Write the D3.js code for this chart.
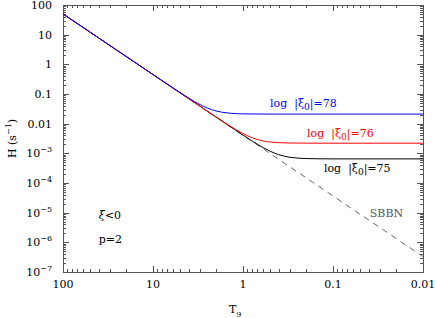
<!DOCTYPE html>
<meta charset="utf-8">
<style>
	body { margin: 0; background: #fff; }
	svg text { font-family: "DejaVu Serif", serif; font-size: 11px; }
	.axis path { display: none; }
	.axis line { stroke: #555; shape-rendering: crispEdges; }
</style>
<body>
<script src="https://d3js.org/d3.v7.min.js"></script>
<script>

	// temperature samples (T9)
	var temps = [100, 50, 20, 10, 7, 5, 4, 3, 2.5, 2, 1.5, 1.2, 1, 0.8, 0.6, 0.5, 0.4, 0.3, 0.2, 0.15, 0.1, 0.05, 0.02, 0.01];

	// H values (s^-1) for each curve
	var hBlue  = [50, 12.15, 1.865, 0.4525, 0.219, 0.1115, 0.0724, 0.0439, 0.0339, 0.0269, 0.0230, 0.0218, 0.0214, 0.0212, 0.0211, 0.0210, 0.0210, 0.0210, 0.0210, 0.0210, 0.0210, 0.0210, 0.0210, 0.0210];
	var hRed   = [50, 12.15, 1.865, 0.4525, 0.218, 0.1095, 0.0693, 0.0386, 0.0266, 0.01694, 0.00958, 0.0063, 0.00463, 0.00339, 0.00262, 0.00241, 0.00229, 0.00223, 0.00221, 0.0022, 0.0022, 0.0022, 0.0022, 0.0022];
	var hBlack = [50, 12.15, 1.865, 0.4525, 0.218, 0.1095, 0.0693, 0.0385, 0.02655, 0.0168, 0.00935, 0.00594, 0.00412, 0.00266, 0.00157, 0.00118, 0.0009, 0.000735, 0.000667, 0.000655, 0.00065, 0.00065, 0.00065, 0.00065];

	// standard BBN (dashed)
	var sbbnT = [100, 10, 1, 0.1, 0.01];
	var sbbnH = [50, 0.452, 0.00407, 0.0000367, 0.00000033];

	var xMajor = [100, 10, 1, 0.1, 0.01];
	var xLabels = ["100", "10", "1", "0.1", "0.01"];
	var yMajor = [100, 10, 1, 0.1, 0.01, 1e-3, 1e-4, 1e-5, 1e-6, 1e-7];
	var yLabels = ["100", "10", "1", "0.1", "0.01", "-3", "-4", "-5", "-6", "-7"];

	var W = 436, H = 318;
	var margin = {top: 5, right: 13, bottom: 46, left: 63};
	var width = W - margin.left - margin.right,
		height = H - margin.top - margin.bottom;

	var x = d3.scaleLog().domain([100, 0.01]).range([0, width]);
	var y = d3.scaleLog().domain([1e-7, 100]).range([height, 0]);

	var svg = d3.select("body").append("svg")
		.attr("width", W)
		.attr("height", H)
		.append("g")
		.attr("transform", "translate(" + margin.left + "," + margin.top + ")");

	// minor tick positions (2..9 in each decade)
	function minors(lo, hi) {
		var out = [];
		for (var e = lo; e < hi; e++) {
			for (var k = 2; k <= 9; k++) out.push(k * Math.pow(10, e));
		}
		return out;
	}
	var xMinor = minors(-2, 2);
	var yMinor = minors(-7, 2);

	// ticks point inward on all four sides
	function addAxis(gen, scale, vals, size, tr) {
		svg.append("g")
			.attr("class", "axis")
			.attr("transform", tr)
			.call(gen(scale).tickValues(vals).tickSizeInner(size).tickSizeOuter(0).tickFormat(""));
	}
	addAxis(d3.axisBottom, x, xMajor, -6, "translate(0," + height + ")");
	addAxis(d3.axisBottom, x, xMinor, -3, "translate(0," + height + ")");
	addAxis(d3.axisTop, x, xMajor, -6, "translate(0,0)");
	addAxis(d3.axisTop, x, xMinor, -3, "translate(0,0)");
	addAxis(d3.axisLeft, y, yMajor, -6, "translate(0,0)");
	addAxis(d3.axisLeft, y, yMinor, -3, "translate(0,0)");
	addAxis(d3.axisRight, y, yMajor, -6, "translate(" + width + ",0)");
	addAxis(d3.axisRight, y, yMinor, -3, "translate(" + width + ",0)");

	// frame
	svg.append("rect")
		.attr("x", 0).attr("y", 0)
		.attr("width", width).attr("height", height)
		.attr("fill", "none")
		.attr("stroke", "#555")
		.attr("shape-rendering", "crispEdges");

	// x tick labels
	svg.selectAll(".xlab")
		.data(xMajor)
		.enter().append("text")
		.attr("x", function(d) { return x(d); })
		.attr("y", height + 16)
		.attr("text-anchor", "middle")
		.text(function(d, i) { return xLabels[i]; });

	// y tick labels, the small ones as powers of ten
	yMajor.forEach(function(d, i) {
		var t = svg.append("text")
			.attr("x", -11)
			.attr("y", y(d) + 4)
			.attr("text-anchor", "end");
		if (d >= 0.01) {
			t.text(yLabels[i]);
		} else {
			t.append("tspan").text("10");
			t.append("tspan").attr("dy", -5).attr("font-size", "8px").text(yLabels[i].replace("-", "\u2212"));
		}
	});

	// axis titles
	var xt = svg.append("text")
		.attr("x", x(1) - 14)
		.attr("y", H - margin.top - 5);
	xt.append("tspan").text("T");
	xt.append("tspan").attr("dy", 4).attr("font-size", "8px").text("9");

	var yt = svg.append("text")
		.attr("transform", "translate(" + (-margin.left + 16) + "," + (height / 2) + ") rotate(-90)")
		.attr("text-anchor", "middle");
	yt.append("tspan").text("H (s");
	yt.append("tspan").attr("dy", -5).attr("font-size", "8px").text("\u22121");
	yt.append("tspan").attr("dy", 5).text(")");

	// curves
	var line = d3.line()
		.x(function(d) { return x(d[0]); })
		.y(function(d) { return y(d[1]); })
		.curve(d3.curveMonotoneX);

	svg.append("path")
		.datum(d3.zip(sbbnT, sbbnH))
		.attr("d", line)
		.attr("fill", "none")
		.attr("stroke", "#666")
		.attr("stroke-width", 1)
		.attr("stroke-dasharray", "6,5");

	[[hBlack, "#000"], [hRed, "#ff0000"], [hBlue, "#0000ff"]].forEach(function(c) {
		svg.append("path")
			.datum(d3.zip(temps, c[0]))
			.attr("d", line)
			.attr("fill", "none")
			.attr("stroke", c[1])
			.attr("stroke-width", 1);
	});

	// curve labels
	function xiLabel(px, py, val, col) {
		var t = svg.append("text")
			.attr("x", px).attr("y", py)
			.attr("fill", col);
		t.append("tspan").text("log\u00a0\u00a0|");
		t.append("tspan").text("\u03be");
		t.append("tspan").attr("dy", 3).attr("font-size", "9px").text("0");
		t.append("tspan").attr("dy", -3).text("|=" + val);
	}
	xiLabel(x(0.5), y(0.036), "78", "#0000ff");
	xiLabel(x(0.194), y(0.0035), "76", "#ff0000");
	xiLabel(x(0.126), y(0.00023), "75", "#000");

	svg.append("text")
		.attr("x", x(0.039)).attr("y", y(0.000007))
		.attr("fill", "#555")
		.text("SBBN");

	var xi = svg.append("text")
		.attr("x", x(40)).attr("y", 214);
	xi.append("tspan").attr("font-style", "italic").text("\u03be");
	xi.append("tspan").text("<0");

	svg.append("text")
		.attr("x", x(40)).attr("y", 238)
		.text("p=2");

</script>
</body>
